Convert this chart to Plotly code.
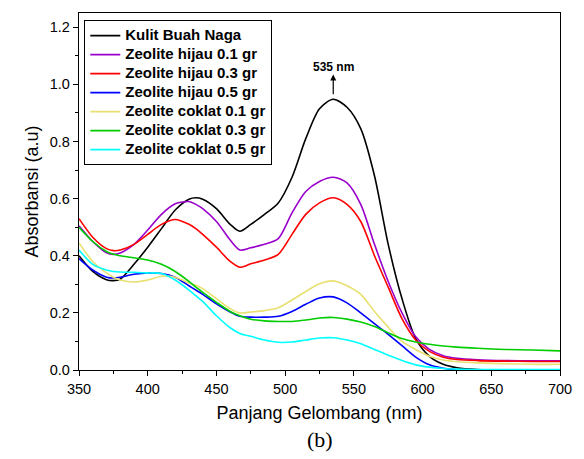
import plotly.graph_objects as go

wavelength = [350, 360, 370, 375, 380, 390, 400, 410, 420, 430, 435, 440, 450, 460, 467, 475, 485, 495,
              505, 515, 525, 535, 545, 555, 565, 575, 585, 595, 605, 615, 625, 640, 660, 680, 700]

kulit = [0.40, 0.345, 0.316, 0.313, 0.318, 0.37, 0.43, 0.495, 0.56, 0.598, 0.603, 0.598, 0.565, 0.51, 0.486,
         0.51, 0.545, 0.585, 0.675, 0.81, 0.915, 0.948, 0.92, 0.845, 0.68, 0.44, 0.25, 0.11, 0.048, 0.02,
         0.008, 0.002, 0.0, 0.0, 0.0]
hijau_01 = [0.505, 0.45, 0.41, 0.405, 0.41, 0.44, 0.49, 0.545, 0.582, 0.59, 0.58, 0.565, 0.52, 0.455, 0.42,
            0.428, 0.44, 0.46, 0.55, 0.625, 0.66, 0.675, 0.655, 0.58, 0.44, 0.31, 0.20, 0.116, 0.072, 0.05,
            0.041, 0.036, 0.033, 0.032, 0.032]
hijau_03 = [0.53, 0.465, 0.425, 0.418, 0.42, 0.44, 0.475, 0.51, 0.527, 0.51, 0.495, 0.475, 0.43, 0.38, 0.36,
            0.372, 0.385, 0.405, 0.475, 0.545, 0.585, 0.603, 0.58, 0.52, 0.40, 0.29, 0.18, 0.105, 0.065,
            0.045, 0.037, 0.033, 0.031, 0.030, 0.030]
hijau_05 = [0.39, 0.35, 0.325, 0.322, 0.325, 0.335, 0.34, 0.338, 0.325, 0.295, 0.28, 0.265, 0.232, 0.203,
            0.188, 0.185, 0.185, 0.188, 0.205, 0.23, 0.252, 0.256, 0.235, 0.20, 0.162, 0.125, 0.085, 0.045,
            0.018, 0.006, 0.001, 0.0, 0.0, 0.0, 0.0]
coklat_01 = [0.445, 0.38, 0.34, 0.325, 0.315, 0.308, 0.315, 0.328, 0.325, 0.305, 0.297, 0.285, 0.25, 0.215,
             0.20, 0.203, 0.208, 0.218, 0.245, 0.275, 0.302, 0.312, 0.295, 0.265, 0.205, 0.15, 0.10, 0.072,
             0.048, 0.035, 0.029, 0.025, 0.022, 0.020, 0.020]
coklat_03 = [0.50, 0.45, 0.415, 0.405, 0.40, 0.393, 0.385, 0.37, 0.345, 0.31, 0.29, 0.272, 0.237, 0.205,
             0.19, 0.178, 0.172, 0.17, 0.17, 0.175, 0.182, 0.184, 0.178, 0.168, 0.152, 0.13, 0.11, 0.098,
             0.09, 0.084, 0.08, 0.076, 0.072, 0.070, 0.067]
coklat_05 = [0.42, 0.37, 0.35, 0.345, 0.343, 0.342, 0.34, 0.338, 0.315, 0.28, 0.26, 0.24, 0.19, 0.148,
             0.128, 0.118, 0.105, 0.097, 0.098, 0.105, 0.112, 0.113, 0.105, 0.092, 0.072, 0.052, 0.033,
             0.018, 0.01, 0.005, 0.003, 0.002, 0.002, 0.002, 0.002]

series_names = ["Kulit Buah Naga", "Zeolite hijau 0.1 gr", "Zeolite hijau 0.3 gr", "Zeolite hijau 0.5 gr",
                "Zeolite coklat 0.1 gr", "Zeolite coklat 0.3 gr", "Zeolite coklat 0.5 gr"]
series_values = [kulit, hijau_01, hijau_03, hijau_05, coklat_01, coklat_03, coklat_05]
series_colors = ["#000000", "#9A00CC", "#FF0000", "#0000FF", "#E8E070", "#00CC00", "#00FFFF"]

fig = go.Figure()
for name, vals, col in zip(series_names, series_values, series_colors):
    fig.add_trace(go.Scatter(x=wavelength, y=vals, mode="lines",
                             name='<span style="font-size:15px">' + name + '</span>',
                             line=dict(color=col, width=1.6, shape="spline", smoothing=0.8)))

axis_common = dict(showline=True, linecolor="black", linewidth=1.3, mirror=True, ticks="outside",
                   ticklen=5, tickwidth=1.2, tickcolor="black", showgrid=False, zeroline=False,
                   tickfont=dict(family="Arial", size=14.5, color="black"))

fig.update_xaxes(range=[350, 700], dtick=50, tick0=350,
                 minor=dict(ticks="outside", dtick=25, ticklen=3, tickcolor="black", tickwidth=1),
                 title=dict(text="Panjang Gelombang (nm)", font=dict(family="Arial", size=18, color="black"),
                            standoff=10),
                 **axis_common)
fig.update_yaxes(range=[0, 1.25], dtick=0.2, tick0=0, tickformat=".1f",
                 minor=dict(ticks="outside", dtick=0.1, ticklen=3, tickcolor="black", tickwidth=1),
                 title=dict(text="Absorbansi (a.u)", font=dict(family="Arial", size=18, color="black"),
                            standoff=6),
                 **axis_common)

fig.add_annotation(x=535, y=1.035, ax=535, ay=0.96, xref="x", yref="y", axref="x", ayref="y",
                   text="", showarrow=True, arrowhead=2, arrowsize=1, arrowwidth=1.2, arrowcolor="black")
fig.add_annotation(x=535, y=1.062, xref="x", yref="y", text="<b>535 nm</b>", showarrow=False,
                   font=dict(family="Arial", size=12, color="black"))
fig.add_annotation(x=0.5, y=-0.196, xref="paper", yref="paper", yanchor="middle", text="(b)",
                   showarrow=False,
                   font=dict(family="Times New Roman, Liberation Serif", size=22, color="black"))

fig.update_layout(
    width=584, height=459,
    margin=dict(l=79, r=17, t=12, b=89),
    paper_bgcolor="white", plot_bgcolor="white",
    legend=dict(x=0.011, y=0.98, xanchor="left", yanchor="top", bgcolor="white",
                bordercolor="black", borderwidth=1, tracegroupgap=0,
                font=dict(family="Arial", size=12, color="black", weight="bold")),
)

fig.write_html("out.html")
